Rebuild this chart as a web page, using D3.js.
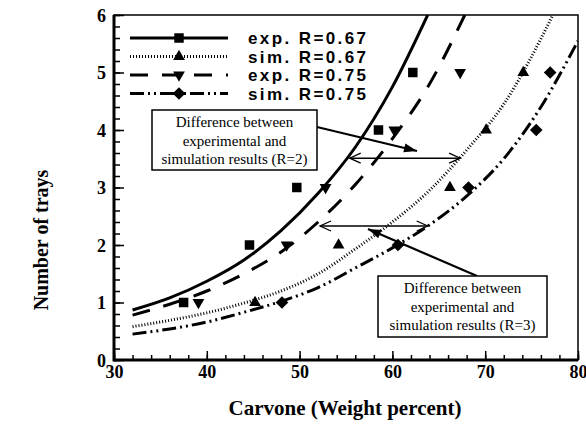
<!DOCTYPE html>
<html>
<head>
<meta charset="utf-8">
<script src="https://cdn.jsdelivr.net/npm/d3@7"></script>
<style>
  body { margin: 0; background: #fff; }
  .serif { font-family: "Liberation Serif", "Times New Roman", Times, "DejaVu Serif", serif; }
  .sans { font-family: "Liberation Sans", Arial, Helvetica, sans-serif; }
</style>
</head>
<body>
<svg id="chart" width="586" height="430"></svg>
<script>
// trays (y) and carvone weight percent (x) of the measured / simulated points
var trays = [1, 2, 3, 4, 5];
var expR067 = [37.5, 44.6, 49.7, 58.5, 62.2];
var simR067 = [45.2, 54.2, 66.2, 70.1, 74.1];
var expR075 = [39.1, 48.6, 52.8, 60.2, 67.3];
var simR075 = [48.1, 60.6, 68.2, 75.5, 77.0];

// curve points [carvone, trays]
var lineExp067 = [[32, 0.87], [36, 1.08], [40, 1.37], [44, 1.74], [48, 2.25], [52, 2.9], [56, 3.7], [60, 4.75], [63.8, 6]];
var lineSim067 = [[32, 0.58], [36, 0.69], [40, 0.82], [44, 0.99], [48, 1.2], [52, 1.5], [56, 1.93], [60, 2.4], [64, 2.95], [68, 3.65], [72, 4.45], [77.3, 6]];
var lineExp075 = [[32, 0.78], [36, 0.97], [40, 1.2], [44, 1.5], [48, 1.88], [52, 2.4], [56, 3.05], [60, 3.85], [64, 4.8], [67.8, 6]];
var lineSim075 = [[32, 0.45], [36, 0.54], [40, 0.66], [44, 0.83], [48, 1.02], [52, 1.26], [56, 1.6], [60, 1.95], [64, 2.35], [68, 2.85], [72, 3.5], [76, 4.4], [80, 5.55]];

var legendNames = ["exp. R=0.67", "sim. R=0.67", "exp. R=0.75", "sim. R=0.75"];
var xTicks = [30, 40, 50, 60, 70, 80];
var yTicks = [0, 1, 2, 3, 4, 5, 6];

// annotation double arrows [x1, x2, y] in data units
var gapR2 = [55.4, 67.3, 3.51];
var gapR3 = [52.2, 63.8, 2.33];
var noteLines = ["Difference between", "experimental and"];

var svg = d3.select("#chart");
var x = d3.scaleLinear().domain([30, 80]).range([114, 578]);
var y = d3.scaleLinear().domain([0, 6]).range([360, 15]);

// frame
svg.append("rect")
  .attr("x", x(30)).attr("y", y(6))
  .attr("width", x(80) - x(30)).attr("height", y(0) - y(6))
  .attr("fill", "none").attr("stroke", "#000").attr("stroke-width", 1.5);

// minor + major ticks, pointing inward
svg.append("g").attr("transform", "translate(0," + y(0) + ")")
  .call(d3.axisBottom(x).tickValues(d3.range(30, 81, 2)).tickSize(-5).tickFormat(""));
svg.append("g").attr("transform", "translate(" + x(30) + ",0)")
  .call(d3.axisLeft(y).tickValues(d3.range(0, 6.01, 0.2)).tickSize(-6).tickFormat(""));

var xAxis = svg.append("g").attr("transform", "translate(0," + y(0) + ")")
  .call(d3.axisBottom(x).tickValues(xTicks).tickSize(-9).tickPadding(5).tickFormat(d3.format("d")));
var yAxis = svg.append("g").attr("transform", "translate(" + x(30) + ",0)")
  .call(d3.axisLeft(y).tickValues(yTicks).tickSize(-10).tickPadding(8).tickFormat(d3.format("d")));

svg.selectAll(".domain").remove();
svg.selectAll(".tick line").attr("stroke", "#000").attr("stroke-width", 1.5);
[xAxis, yAxis].forEach(function(a) {
  a.attr("font-family", null).attr("font-size", null);
  a.selectAll("text")
    .attr("class", "serif").attr("font-weight", "bold")
    .attr("font-size", 18).attr("fill", "#000");
});
yAxis.selectAll(".tick text").attr("dy", "0.35em");

// thick left and bottom axis lines
svg.append("line").attr("x1", x(30)).attr("x2", x(80)).attr("y1", y(0)).attr("y2", y(0))
  .attr("stroke", "#000").attr("stroke-width", 3);
svg.append("line").attr("x1", x(30)).attr("x2", x(30)).attr("y1", y(0) + 1.5).attr("y2", y(6))
  .attr("stroke", "#000").attr("stroke-width", 3);

// axis titles
svg.append("text")
  .attr("x", 345).attr("y", 415)
  .attr("text-anchor", "middle").attr("class", "serif")
  .attr("font-weight", "bold").attr("font-size", 21)
  .text("Carvone (Weight percent)");
svg.append("text")
  .attr("transform", "translate(48,240) rotate(-90)")
  .attr("text-anchor", "middle").attr("class", "serif")
  .attr("font-weight", "bold").attr("font-size", 20)
  .text("Number of trays");

var series = [
  { name: legendNames[0], pts: expR067, line: lineExp067, shape: d3.symbolSquare, size: 90, rot: 0, dash: null, width: 3 },
  { name: legendNames[1], pts: simR067, line: lineSim067, shape: d3.symbolTriangle, size: 60, rot: 0, dash: "1,2", width: 3 },
  { name: legendNames[2], pts: expR075, line: lineExp075, shape: d3.symbolTriangle, size: 60, rot: 180, dash: "18,14", width: 3 },
  { name: legendNames[3], pts: simR075, line: lineSim075, shape: d3.symbolSquare, size: 80, rot: 45, dash: "14,4,2,4,2,4", width: 3 }
];

svg.append("clipPath").attr("id", "plotClip")
  .append("rect").attr("x", x(30)).attr("y", y(6))
  .attr("width", x(80) - x(30)).attr("height", y(0) - y(6));

var line = d3.line()
  .x(function(d) { return x(d[0]); })
  .y(function(d) { return y(d[1]); })
  .curve(d3.curveMonotoneX);

var plot = svg.append("g").attr("clip-path", "url(#plotClip)");

series.forEach(function(s) {
  plot.append("path")
    .attr("d", line(s.line))
    .attr("fill", "none").attr("stroke", "#000")
    .attr("stroke-width", s.width)
    .attr("stroke-dasharray", s.dash);

  plot.selectAll(null)
    .data(s.pts)
    .enter()
    .append("path")
    .attr("d", d3.symbol().type(s.shape).size(s.size))
    .attr("transform", function(d, i) {
      return "translate(" + x(d) + "," + y(trays[i]) + ") rotate(" + s.rot + ")";
    })
    .attr("fill", "#000");
});

// legend
var legend = svg.append("g");
series.forEach(function(s, i) {
  var ly = 38 + i * 18.5;
  legend.append("line")
    .attr("x1", 130).attr("x2", 228).attr("y1", ly).attr("y2", ly)
    .attr("stroke", "#000").attr("stroke-width", s.width)
    .attr("stroke-dasharray", s.dash);
  legend.append("path")
    .attr("d", d3.symbol().type(s.shape).size(s.size))
    .attr("transform", "translate(179," + ly + ") rotate(" + s.rot + ")")
    .attr("fill", "#000");
  legend.append("text")
    .attr("x", 248).attr("y", ly + 6)
    .attr("class", "sans").attr("font-weight", "bold").attr("font-size", 17)
    .attr("letter-spacing", 2.4)
    .text(s.name);
});

// annotations
function arrowHead(g, x0, y0, x1, y1, filled) {
  var a = Math.atan2(y1 - y0, x1 - x0);
  var len = filled ? 13 : 11, half = filled ? 4.5 : 5;
  var p1 = [x1 - len * Math.cos(a) + half * Math.sin(a), y1 - len * Math.sin(a) - half * Math.cos(a)];
  var p2 = [x1 - len * Math.cos(a) - half * Math.sin(a), y1 - len * Math.sin(a) + half * Math.cos(a)];
  if (filled) {
    g.append("path").attr("d", "M" + x1 + "," + y1 + "L" + p1 + "L" + p2 + "Z").attr("fill", "#000");
  } else {
    g.append("path").attr("d", "M" + p1 + "L" + x1 + "," + y1 + "L" + p2)
      .attr("fill", "none").attr("stroke", "#000").attr("stroke-width", 1.3);
  }
}

function doubleArrow(g, r) {
  var xa = x(r[0]), xb = x(r[1]), yy = y(r[2]);
  g.append("line").attr("x1", xa).attr("x2", xb).attr("y1", yy).attr("y2", yy)
    .attr("stroke", "#000").attr("stroke-width", 1.5);
  arrowHead(g, xb, yy, xa, yy, false);
  arrowHead(g, xa, yy, xb, yy, false);
}

function noteBox(g, bx, by, bw, bh, label, px, py, tx, ty) {
  g.append("line").attr("x1", px).attr("y1", py).attr("x2", tx).attr("y2", ty)
    .attr("stroke", "#000").attr("stroke-width", 2.2);
  arrowHead(g, px, py, tx, ty, true);
  g.append("rect").attr("x", bx).attr("y", by).attr("width", bw).attr("height", bh)
    .attr("fill", "#fff").attr("stroke", "#000").attr("stroke-width", 1.5);
  noteLines.concat([label]).forEach(function(t, i) {
    g.append("text")
      .attr("x", bx + bw / 2).attr("y", by + 17 + i * 18.5)
      .attr("text-anchor", "middle").attr("class", "serif")
      .attr("font-size", 15)
      .text(t);
  });
}

var notes = svg.append("g");
doubleArrow(notes, gapR2);
doubleArrow(notes, gapR3);
noteBox(notes, 152, 110, 165, 60, "simulation results (R=2)", 317, 127, 417, 151);
noteBox(notes, 378, 276, 169, 61, "simulation results (R=3)", 477, 276, 368, 229);
</script>
</body>
</html>
